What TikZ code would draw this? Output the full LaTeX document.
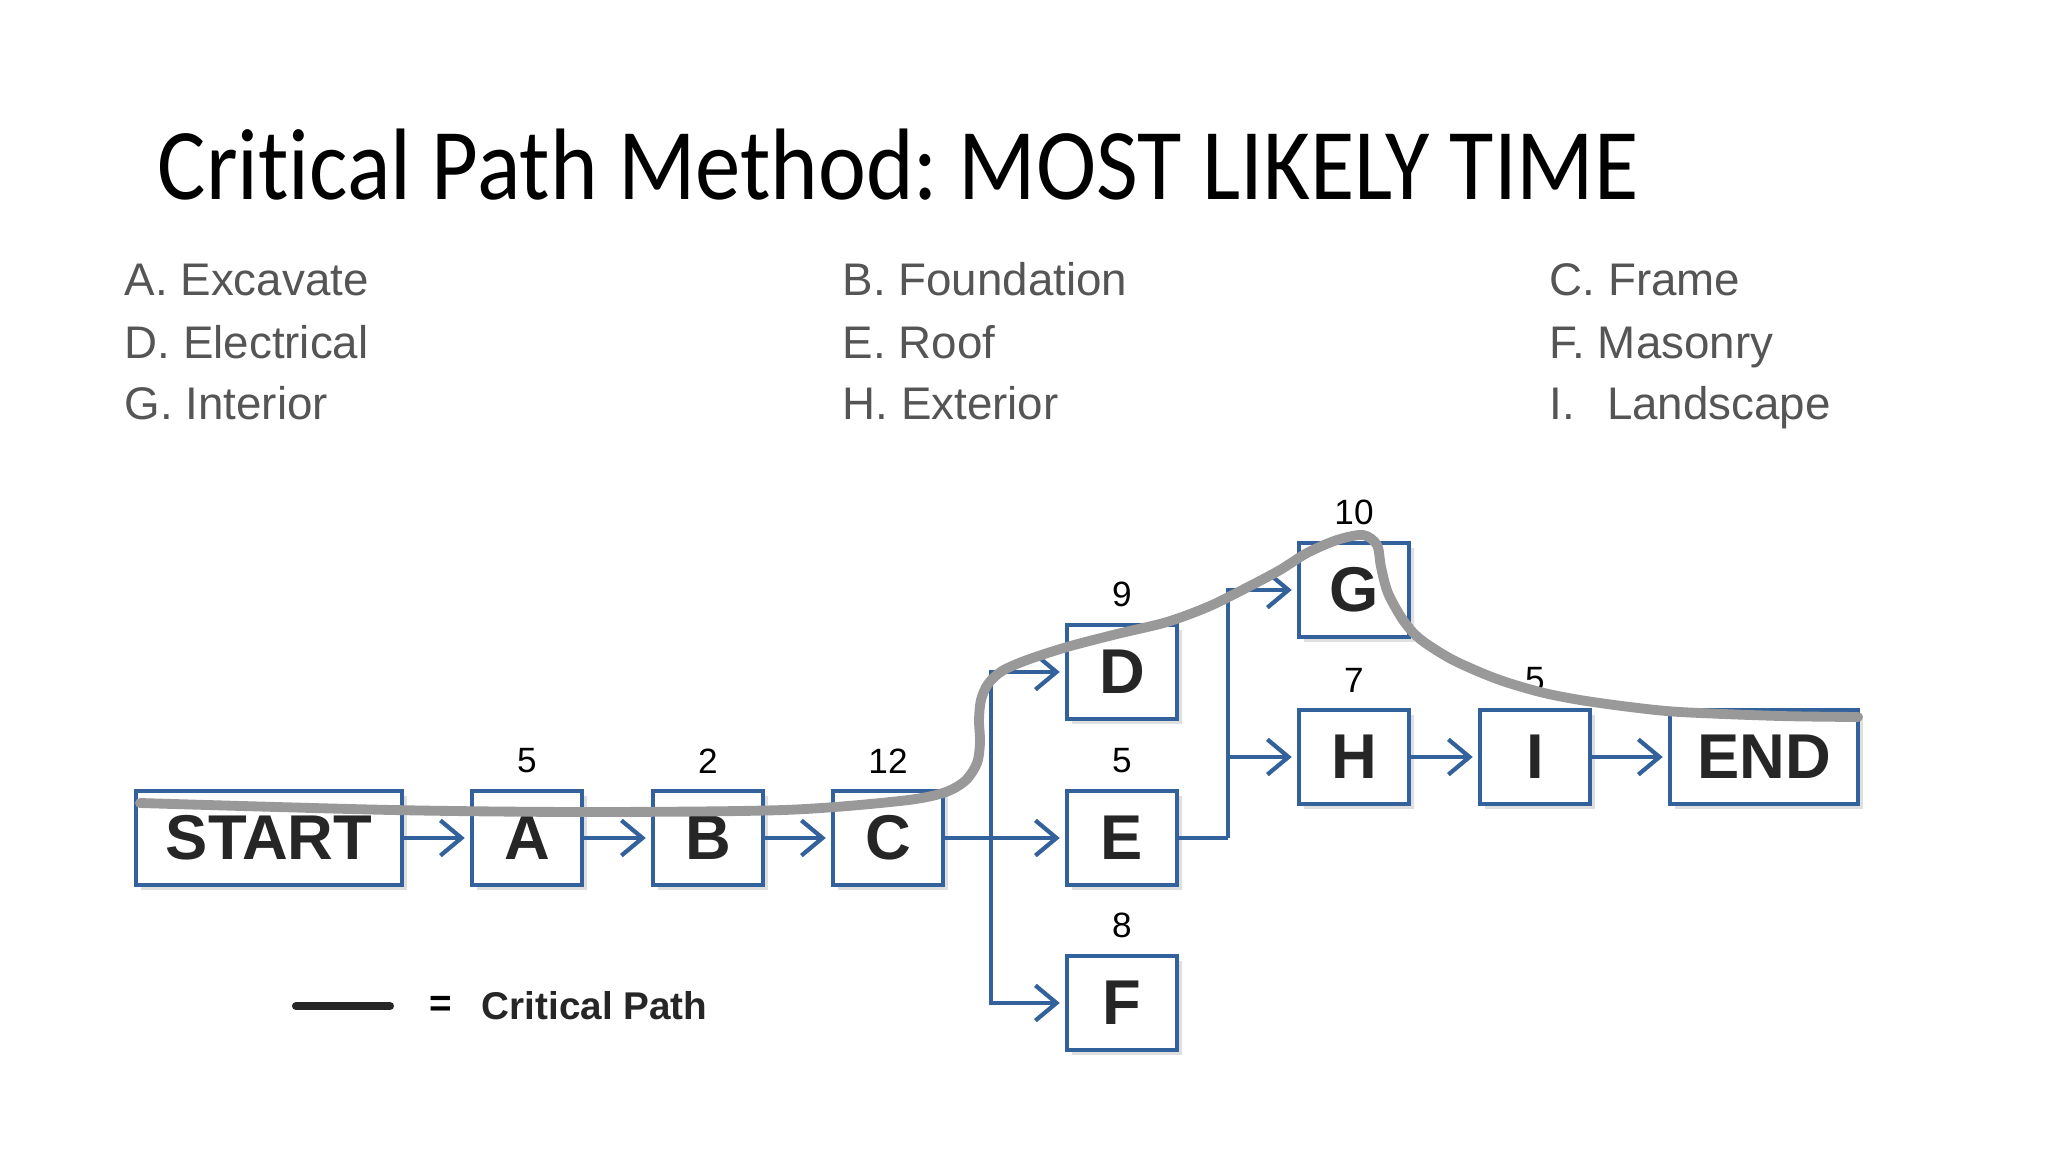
\documentclass[tikz,border=0pt]{standalone}
\usepackage{fontspec}
\setmainfont{Liberation Sans}
\newfontfamily\titlefont[Ligatures=CommonOff]{Carlito}
\usetikzlibrary{arrows.meta,positioning,shadows}
\definecolor{boxblue}{HTML}{33619B}
\definecolor{cpgray}{HTML}{999999}
\definecolor{itemgray}{HTML}{555555}
\frenchspacing
\begin{document}
\begin{tikzpicture}[x=0.01cm, y=-0.01cm,
  task/.style={shape=rectangle, draw=boxblue, line width=1.1pt, fill=white,
    minimum width=1.1cm, minimum height=0.94cm, inner sep=0pt,
    font=\fontsize{18}{18}\selectfont\bfseries, text=black!85,
    drop shadow={shadow xshift=1.5pt, shadow yshift=-1.5pt, opacity=0.25}},
  dur/.style={font=\fontsize{10}{10}\selectfont},
  item/.style={anchor=base west, inner sep=0pt, font=\fontsize{13}{13}\selectfont, text=itemgray},
  link/.style={draw=boxblue, line width=1.2pt, -{Straight Barb[length=6pt,width=10pt]}, shorten >=1.5pt},
  bus/.style={draw=boxblue, line width=1.2pt}]
\useasboundingbox (0,0) rectangle (2048,1152);

% title and activity list
\node[anchor=base west, inner sep=0pt, font=\titlefont\fontsize{25.8}{25.8}\selectfont] (Title) at (157,200)
  {\scalebox{1}[1.12]{Critical Path Method: MOST LIKELY TIME}};
\node[item] (LA) at (124,296) {A.\ Excavate};
\node[item] (LD) at (124,359) {D.\ Electrical};
\node[item] (LG) at (124,420) {G.\ Interior};
\node[item] (LB) at (842,296) {B.\ Foundation};
\node[item] (LE) at (842,359) {E.\ Roof};
\node[item] (LH) at (842,420) {H.\ Exterior};
\node[item] (LC) at (1549,296) {C.\ Frame};
\node[item] (LF) at (1549,359) {F.\ Masonry};
\node[item] (LI) at (1549,420) {I.\hspace{0.7em}Landscape};

% tasks
\node[task, minimum width=2.66cm] (NStart) at (269,838) {START};
\node[task] (NA) at (527,838) {A};
\node[task] (NB) at (708,838) {B};
\node[task] (NC) at (888,838) {C};
\node[task] (ND) at (1122,672) {D};
\node[task] (NE) at (1122,838) {E};
\node[task] (NF) at (1122,1003) {F};
\node[task] (NG) at (1354,590) {G};
\node[task] (NH) at (1354,757) {H};
\node[task] (NI) at (1535,757) {I};
\node[task, minimum width=1.88cm] (NEnd) at (1764,757) {END};

% durations
\node[dur, above=1pt of NA] (TA) {5};
\node[dur, above=1pt of NB] (TB) {2};
\node[dur, above=1pt of NC] (TC) {12};
\node[dur, above=1pt of ND] (TD) {9};
\node[dur, above=1pt of NE] (TE) {5};
\node[dur, above=1pt of NF] (TF) {8};
\node[dur, above=1pt of NG] (TG) {10};
\node[dur, above=1pt of NH] (TH) {7};
\node[dur, above=1pt of NI] (TI) {5};

% links
\coordinate (J1) at (991,838);
\coordinate (J2) at (1228,838);
\draw[link] (NStart) -- (NA);
\draw[link] (NA) -- (NB);
\draw[link] (NB) -- (NC);
\draw[bus] (NC) -- (J1);
\draw[link] (J1) |- (ND);
\draw[link] (J1) -- (NE);
\draw[link] (J1) |- (NF);
\draw[bus] (NE) -- (J2);
\draw[link] (J2) |- (NG);
\draw[link] (J2 |- NH) -- (NH);
\draw[link] (NH) -- (NI);
\draw[link] (NI) -- (NEnd);

% critical path
\draw[cpgray, line width=2.8pt, line cap=round] plot[smooth, tension=0.5] coordinates {
  (140,803) (392,810) (588,812) (784,810) (900,801) (943,793) (965,781) (977,763)
  (980,742) (979,720) (981,700) (988,684) (1002,671) (1027,660) (1067,647) (1117,634)
  (1167,622) (1210,606) (1250,586) (1280,570) (1307,553) (1337,540) (1363,535)
  (1377,545) (1381,567) (1388,593) (1403,620) (1420,639) (1453,660) (1497,679)
  (1540,692) (1580,700) (1630,707) (1680,712) (1780,716) (1858,717)};

% key
\draw[black!85, line width=2.3pt, line cap=round] (296,1006) -- (390,1006);
\node[font=\fontsize{11}{11}\selectfont\bfseries] (KEq) at (441,1006) {=};
\node[anchor=west, inner sep=0pt, font=\fontsize{11}{11}\selectfont\bfseries, text=black!85] (KText) at (481,1006) {Critical Path};
\end{tikzpicture}
\end{document}
